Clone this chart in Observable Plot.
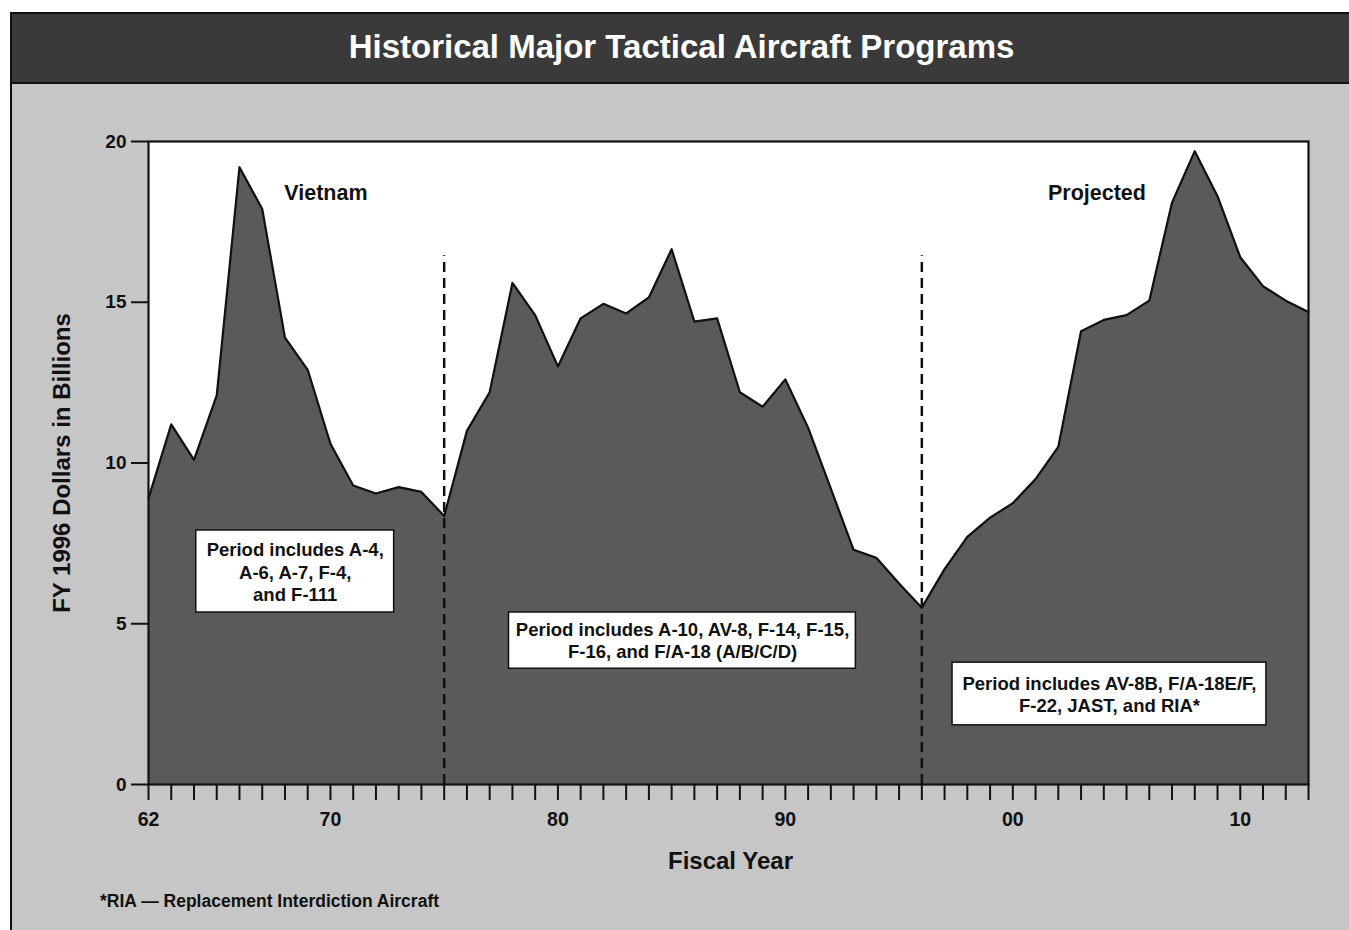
<!DOCTYPE html>
<html>
<head>
<meta charset="utf-8">
<script src="https://cdn.jsdelivr.net/npm/d3@7"></script>
<script src="https://cdn.jsdelivr.net/npm/@observablehq/plot@0.6"></script>
<style>
  html, body { margin: 0; padding: 0; background: #ffffff; }
  #wrap { position: relative; width: 1349px; height: 930px; overflow: hidden;
          font-family: "Liberation Sans", Arial, Helvetica, sans-serif; }
  #panel { position: absolute; left: 10px; top: 12px; width: 1345px; height: 925px;
           background: #c6c6c6; border-left: 2px solid #111; border-top: 2px solid #111; }
  #chart { position: absolute; left: 0; top: 0; }
  #title { position: absolute; left: 10px; top: 12px; width: 1339px; height: 68px;
           background: #3a3a3a; border-left: 2px solid #111; border-top: 2px solid #111;
           border-bottom: 2px solid #111; color: #ffffff; font-weight: bold; font-size: 33px;
           line-height: 66px; text-align: center; }
  #note { position: absolute; left: 100px; top: 891px; font-size: 17.5px; font-weight: bold; color: #111; }
</style>
</head>
<body>
<div id="wrap">
  <div id="panel"></div>
  <div id="chart"></div>
  <div id="title"></div>
  <div id="note"></div>
</div>
<script>
// ---- data ----
const years = [
  1962, 1963, 1964, 1965, 1966, 1967, 1968, 1969, 1970, 1971,
  1972, 1973, 1974, 1975, 1976, 1977, 1978, 1979, 1980, 1981,
  1982, 1983, 1984, 1985, 1986, 1987, 1988, 1989, 1990, 1991,
  1992, 1993, 1994, 1995, 1996, 1997, 1998, 1999, 2000, 2001,
  2002, 2003, 2004, 2005, 2006, 2007, 2008, 2009, 2010, 2011,
  2012, 2013
];
const values = [
  8.9, 11.2, 10.1, 12.1, 19.2, 17.9, 13.9, 12.9, 10.6, 9.3,
  9.05, 9.25, 9.1, 8.35, 11.0, 12.2, 15.6, 14.6, 13.0, 14.5,
  14.95, 14.65, 15.15, 16.65, 14.4, 14.5, 12.2, 11.75, 12.6, 11.1,
  9.2, 7.3, 7.05, 6.25, 5.5, 6.7, 7.7, 8.3, 8.75, 9.5,
  10.5, 14.1, 14.45, 14.6, 15.05, 18.1, 19.7, 18.3, 16.4, 15.5,
  15.05, 14.7
];
const yTicks = [0, 5, 10, 15, 20];
const xLabelYears = [1962, 1970, 1980, 1990, 2000, 2010];
const xTickLabels = ["62", "70", "80", "90", "00", "10"];
const dividerYears = [1975, 1996];
const dividerTop = [16.45, 16.45];
const periodNames = ["Vietnam", "Projected"];
const periodNoteTexts = [
  "Period includes A-4,\nA-6, A-7, F-4,\nand F-111",
  "Period includes A-10, AV-8, F-14, F-15,\nF-16, and F/A-18 (A/B/C/D)",
  "Period includes AV-8B, F/A-18E/F,\nF-22, JAST, and RIA*"
];
const titleText = "Historical Major Tactical Aircraft Programs";
const xAxisTitle = "Fiscal Year";
const yAxisTitle = "FY 1996 Dollars in Billions";
const footnote = "*RIA \u2014 Replacement Interdiction Aircraft";

// ---- annotation placement (data coordinates) ----
const nameAnchors = [ {x: 1969.8, y: 18.4}, {x: 2003.7, y: 18.4} ];
const boxAnchors = [
  {x1: 1964.1, x2: 1972.8, y1: 5.35, y2: 7.9,  cx: 1968.45, cy: 6.62},
  {x1: 1977.85, x2: 1993.1, y1: 3.6, y2: 5.35, cx: 1985.48, cy: 4.5},
  {x1: 1997.35, x2: 2011.15, y1: 1.84, y2: 3.79, cx: 2004.25, cy: 2.82}
];

const series = years.map((y, i) => ({year: y, value: values[i]}));
const dividers = dividerYears.map((y, i) => ({year: y, top: dividerTop[i]}));
const names = periodNames.map((t, i) => ({text: t, ...nameAnchors[i]}));
const boxes = periodNoteTexts.map((t, i) => ({text: t, ...boxAnchors[i]}));
const labelMap = new Map(xLabelYears.map((y, i) => [y, xTickLabels[i]]));

document.getElementById("title").textContent = titleText;
document.getElementById("note").textContent = footnote;

const ink = "#111111";
const chart = Plot.plot({
  width: 1349,
  height: 930,
  marginLeft: 148,
  marginRight: 41,
  marginTop: 141,
  marginBottom: 146,
  style: {
    background: "transparent",
    fontFamily: "'Liberation Sans', Arial, Helvetica, sans-serif",
    fontWeight: "bold",
    color: ink
  },
  x: {domain: [1962, 2013], label: null},
  y: {domain: [0, 20], label: null},
  marks: [
    Plot.frame({fill: "#ffffff", stroke: null}),
    Plot.areaY(series, {x: "year", y: "value", fill: "#5a5a5a"}),
    Plot.lineY(series, {x: "year", y: "value", stroke: ink, strokeWidth: 2.2}),
    Plot.ruleX(dividers, {x: "year", y1: 0, y2: "top", stroke: ink, strokeWidth: 2.5, strokeDasharray: "10,6"}),
    Plot.rect(boxes, {x1: "x1", x2: "x2", y1: "y1", y2: "y2", fill: "#ffffff", stroke: ink, strokeWidth: 1.5}),
    Plot.text(boxes, {x: "cx", y: "cy", text: "text", fontSize: 18.5, fontWeight: "bold", fill: ink, lineHeight: 1.22}),
    Plot.text(names, {x: "x", y: "y", text: "text", fontSize: 21.5, fontWeight: "bold", fill: ink}),
    Plot.frame({stroke: ink, strokeWidth: 2.2}),
    Plot.axisY({ticks: yTicks, tickSize: 17, tickPadding: 5, fontSize: 19, fontWeight: "bold",
                stroke: ink, strokeWidth: 2, fill: ink, tickFormat: d => String(d), label: null}),
    Plot.axisX({ticks: years, tickSize: 16, tickPadding: 12, fontSize: 19.5, fontWeight: "bold",
                stroke: ink, strokeWidth: 2, fill: ink, tickFormat: d => labelMap.get(d) ?? "", label: null}),
    Plot.text([xAxisTitle], {frameAnchor: "bottom", dx: 2, dy: 84, fontSize: 24, fontWeight: "bold", fill: ink}),
    Plot.text([yAxisTitle], {frameAnchor: "left", textAnchor: "middle", dx: -86, rotate: -90, fontSize: 24, fontWeight: "bold", fill: ink})
  ]
});
document.getElementById("chart").appendChild(chart);
</script>
</body>
</html>
